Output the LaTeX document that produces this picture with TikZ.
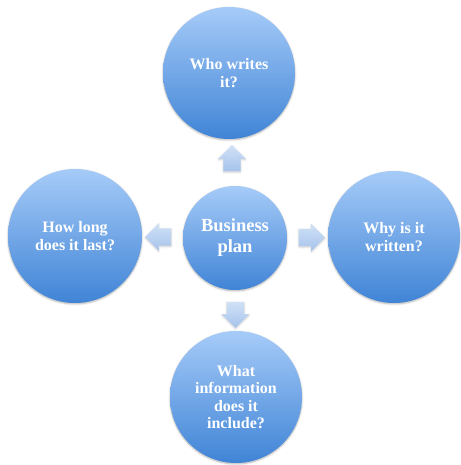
\documentclass[tikz,border=0pt]{standalone}
\usepackage{fontspec}
\setmainfont{Liberation Serif}
\usetikzlibrary{shapes.arrows,shadows.blur}
\definecolor{balltop}{RGB}{166,203,248}
\definecolor{ballbot}{RGB}{64,132,214}
\definecolor{arrtop}{RGB}{208,225,246}
\definecolor{arrbot}{RGB}{166,195,236}
\begin{document}
\begin{tikzpicture}[x=1pt,y=1pt,
    ball/.style={circle,minimum size=132pt,inner sep=0pt,align=center,
        top color=balltop,bottom color=ballbot,text=white,
        font=\bfseries\fontsize{16}{17.5}\selectfont,
        blur shadow={shadow xshift=0pt,shadow yshift=-1pt,shadow blur steps=6,shadow opacity=30}},
    hub/.style={ball,minimum size=104pt,font=\bfseries\fontsize{18.5}{21}\selectfont},
    blockarrow/.style={single arrow,minimum height=25pt,inner sep=8.5pt,
        single arrow head extend=5pt,
        top color=arrtop,bottom color=arrbot,
        blur shadow={shadow xshift=0pt,shadow yshift=-1pt,shadow blur steps=4,shadow opacity=20}}
]
\useasboundingbox (0,0) rectangle (460,465);

\node[hub] (plan) at (235,227) {Business\\plan};
\node[ball] (who) at (229,392) {Who writes\\it?};
\node[ball,minimum size=134pt] (how) at (75,229) {How long\\does it last?};
\node[ball] (why) at (394,228) {Why is it\\written?};
\node[ball] (what) at (236,68) {What\\information\\does it\\include?};

\path (plan.north) -- (who.south) node[midway,blockarrow,shape border rotate=90] (up) {};
\path (plan.south) -- (what.north) node[midway,blockarrow,shape border rotate=270] (down) {};
\path (plan.west) -- (how.east) node[midway,blockarrow,shape border rotate=180] (left) {};
\path (plan.east) -- (why.west) node[midway,blockarrow] (right) {};
\end{tikzpicture}
\end{document}
